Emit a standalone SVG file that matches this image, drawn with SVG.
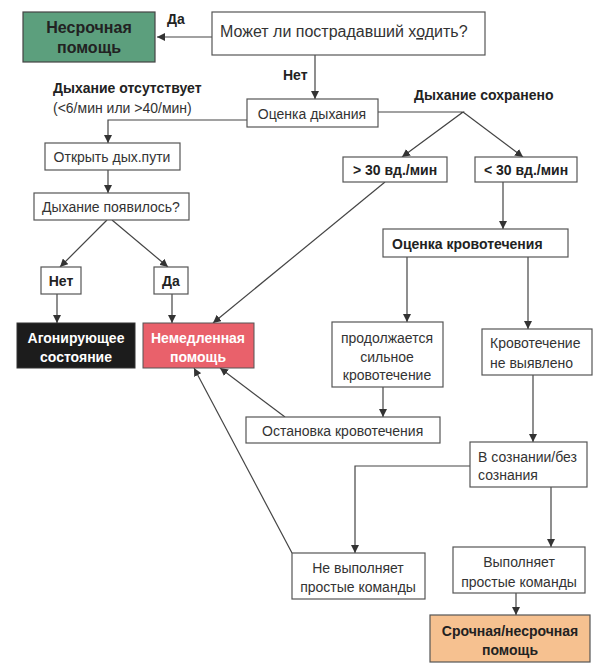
<svg xmlns="http://www.w3.org/2000/svg" width="600" height="670" viewBox="0 0 600 670">
<style>
.box{fill:#fff;stroke:#555;stroke-width:1.2}
.t{font-family:"Liberation Sans",Arial,sans-serif;font-size:14px;fill:#333}
.b{font-family:"Liberation Sans",Arial,sans-serif;font-size:14px;font-weight:bold;fill:#222}
.w{font-family:"Liberation Sans",Arial,sans-serif;font-size:14px;font-weight:bold;fill:#fff}
.c{text-anchor:middle}
.ln{fill:none;stroke:#444;stroke-width:1.2}
</style>
<defs>
<marker id="ah" markerUnits="userSpaceOnUse" markerWidth="9" markerHeight="8" refX="8" refY="4" orient="auto">
<path d="M0,0 L8,4 L0,8 Z" fill="#333"/>
</marker>
</defs>
<rect width="600" height="670" fill="#fff"/>
<g id="connectors">
<path class="ln" d="M212,37 H157" marker-end="url(#ah)"/>
<path class="ln" d="M315,55 V99" marker-end="url(#ah)"/>
<path class="ln" d="M247,120 H108 V143" marker-end="url(#ah)"/>
<path class="ln" d="M378,112 H463 L402,157" marker-end="url(#ah)"/>
<path class="ln" d="M463,112 L523,157" marker-end="url(#ah)"/>
<path class="ln" d="M108,170 V193" marker-end="url(#ah)"/>
<path class="ln" d="M107,220 L60,267" marker-end="url(#ah)"/>
<path class="ln" d="M112,220 L168,267" marker-end="url(#ah)"/>
<path class="ln" d="M57,294 V323" marker-end="url(#ah)"/>
<path class="ln" d="M172,294 V323" marker-end="url(#ah)"/>
<path class="ln" d="M385,182 L213,323" marker-end="url(#ah)"/>
<path class="ln" d="M503,182 V229" marker-end="url(#ah)"/>
<path class="ln" d="M407,257 V322" marker-end="url(#ah)"/>
<path class="ln" d="M528,257 V329" marker-end="url(#ah)"/>
<path class="ln" d="M383,387 V417" marker-end="url(#ah)"/>
<path class="ln" d="M285,417 L220,368" marker-end="url(#ah)"/>
<path class="ln" d="M533,375 V442" marker-end="url(#ah)"/>
<path class="ln" d="M470,466 H355 V553" marker-end="url(#ah)"/>
<path class="ln" d="M292,553 L194,368" marker-end="url(#ah)"/>
<path class="ln" d="M551,487 V547" marker-end="url(#ah)"/>
<path class="ln" d="M516,593 V615" marker-end="url(#ah)"/>
</g>
<g id="labels">
<text class="b" x="167" y="24">Да</text>
<text class="b" x="283" y="80">Нет</text>
<text class="b" x="53" y="93">Дыхание отсутствует</text>
<text class="t" x="53" y="113">(&lt;6/мин или &gt;40/мин)</text>
<text class="b" x="414" y="100">Дыхание сохранено</text>
</g>
<g id="n-nonurgent">
<rect x="23" y="12" width="132" height="50" fill="#5c9f7d" stroke="#444" stroke-width="1.2"/>
<text class="b c" x="89" y="33" style="font-size:16px">Несрочная</text>
<text class="b c" x="89" y="53" style="font-size:16px">помощь</text>
</g>
<g id="n-walk">
<rect class="box" x="212" y="12" width="273" height="43"/>
<text class="t" x="220" y="37" style="font-size:16px">Может ли пострадавший х<tspan text-decoration="underline">од</tspan>ить?</text>
</g>
<g id="n-breath">
<rect class="box" x="247" y="99" width="131" height="28"/>
<text class="t c" x="312" y="119">Оценка дыхания</text>
</g>
<g id="n-open">
<rect class="box" x="45" y="143" width="135" height="27"/>
<text class="t c" x="112" y="162">Открыть дых.пути</text>
</g>
<g id="n-appeared">
<rect class="box" x="34" y="193" width="155" height="27"/>
<text class="t c" x="111" y="212">Дыхание появилось?</text>
</g>
<g id="n-no">
<rect class="box" x="41" y="267" width="40" height="27"/>
<text class="b c" x="61" y="286">Нет</text>
</g>
<g id="n-yes">
<rect class="box" x="154" y="267" width="34" height="27"/>
<text class="b c" x="171" y="286">Да</text>
</g>
<g id="n-agonal">
<rect x="17" y="323" width="118" height="45" fill="#1c1c1c" stroke="#333"/>
<text class="w c" x="76" y="343">Агонирующее</text>
<text class="w c" x="76" y="362">состояние</text>
</g>
<g id="n-immediate">
<rect x="143" y="323" width="111" height="45" fill="#e9616b" stroke="#555"/>
<text class="w c" x="198" y="343">Немедленная</text>
<text class="w c" x="198" y="362">помощь</text>
</g>
<g id="n-gt30">
<rect class="box" x="343" y="157" width="104" height="25"/>
<text class="b c" x="395" y="175">&gt; 30 вд./мин</text>
</g>
<g id="n-lt30">
<rect class="box" x="475" y="157" width="102" height="25"/>
<text class="b c" x="526" y="175">&lt; 30 вд./мин</text>
</g>
<g id="n-bleed">
<rect class="box" x="383" y="229" width="185" height="28"/>
<text class="b" x="392" y="249">Оценка кровотечения</text>
</g>
<g id="n-continues">
<rect class="box" x="332" y="322" width="111" height="65"/>
<text class="t c" x="387" y="343">продолжается</text>
<text class="t c" x="387" y="362">сильное</text>
<text class="t c" x="387" y="380">кровотечение</text>
</g>
<g id="n-notfound">
<rect class="box" x="482" y="329" width="110" height="46"/>
<text class="t" x="490" y="348">Кровотечение</text>
<text class="t" x="490" y="368">не выявлено</text>
</g>
<g id="n-stop">
<rect class="box" x="246" y="417" width="194" height="26"/>
<text class="t" x="262" y="436">Остановка кровотечения</text>
</g>
<g id="n-conscious">
<rect class="box" x="470" y="442" width="117" height="45"/>
<text class="t" x="478" y="462">В сознании/без</text>
<text class="t" x="478" y="480">сознания</text>
</g>
<g id="n-notobey">
<rect class="box" x="292" y="553" width="133" height="46"/>
<text class="t c" x="358" y="573">Не выполняет</text>
<text class="t c" x="358" y="592">простые команды</text>
</g>
<g id="n-obey">
<rect class="box" x="453" y="547" width="132" height="46"/>
<text class="t c" x="519" y="567">Выполняет</text>
<text class="t c" x="519" y="587">простые команды</text>
</g>
<g id="n-urgent">
<rect x="430" y="615" width="160" height="47" fill="#f6c190" stroke="#555" stroke-width="1.2"/>
<text class="b c" x="510" y="636">Срочная/несрочная</text>
<text class="b c" x="510" y="655">помощь</text>
</g>
</svg>
